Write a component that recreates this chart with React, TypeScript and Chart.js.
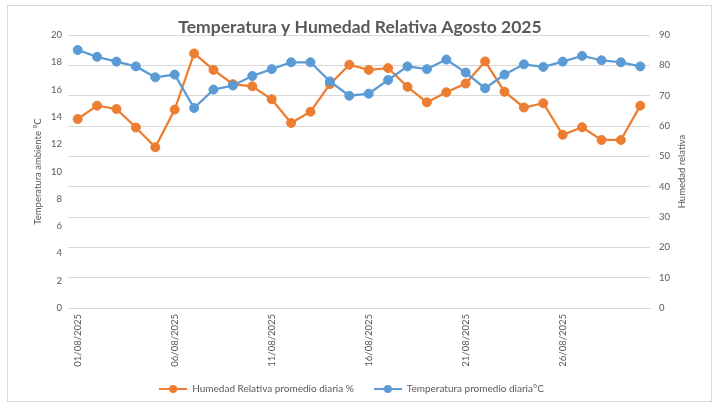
import React, { useEffect, useRef } from "react";
import { Chart, registerables } from "chart.js";

Chart.register(...registerables);

const fechas = [
  "01/08/2025", "02/08/2025", "03/08/2025", "04/08/2025", "05/08/2025",
  "06/08/2025", "07/08/2025", "08/08/2025", "09/08/2025", "10/08/2025",
  "11/08/2025", "12/08/2025", "13/08/2025", "14/08/2025", "15/08/2025",
  "16/08/2025", "17/08/2025", "18/08/2025", "19/08/2025", "20/08/2025",
  "21/08/2025", "22/08/2025", "23/08/2025", "24/08/2025", "25/08/2025",
  "26/08/2025", "27/08/2025", "28/08/2025", "29/08/2025", "30/08/2025",
];

const humedad = [
  62.3, 66.7, 65.6, 59.5, 53.0, 65.4, 83.9, 78.5, 73.8, 73.1,
  68.8, 61.0, 64.7, 73.8, 80.2, 78.5, 79.1, 72.9, 67.8, 71.1,
  74.0, 81.3, 71.3, 66.1, 67.5, 57.1, 59.6, 55.4, 55.4, 66.7,
];

const temperatura = [
  18.9, 18.4, 18.05, 17.7, 16.9, 17.1, 14.65, 16.0, 16.3, 17.0,
  17.5, 18.0, 18.0, 16.6, 15.55, 15.7, 16.7, 17.7, 17.5, 18.2,
  17.25, 16.1, 17.1, 17.85, 17.66, 18.05, 18.47, 18.15, 18.0, 17.7,
];

const tempTicks = { min: 0, max: 20, step: 2 };
const humTicks = { min: 0, max: 90, step: 10 };

const TITLE = "Temperatura y Humedad Relativa Agosto 2025";
const LEFT_TITLE = "Temperatura ambiente °C";
const RIGHT_TITLE = "Humedad relativa";
const HUM_LABEL = "Humedad Relativa promedio diaria %";
const TEMP_LABEL = "Temperatura promedio diaria°C";

const ORANGE = "#ED7D31";
const BLUE = "#5B9BD5";
const TEXT = "#595959";
const GRID = "#D9D9D9";
const FONT = "Lato";

function legendIcon(color: string): HTMLCanvasElement {
  const c = document.createElement("canvas");
  c.width = 28;
  c.height = 10;
  const ctx = c.getContext("2d")!;
  ctx.strokeStyle = color;
  ctx.lineWidth = 2;
  ctx.beginPath();
  ctx.moveTo(0, 5);
  ctx.lineTo(28, 5);
  ctx.stroke();
  ctx.fillStyle = color;
  ctx.beginPath();
  ctx.arc(14, 5, 4, 0, Math.PI * 2);
  ctx.fill();
  return c;
}

export default function App() {
  const ref = useRef<HTMLCanvasElement | null>(null);

  useEffect(() => {
    document.body.style.margin = "0";
    const canvas = ref.current!;
    const icons: Record<string, HTMLCanvasElement> = {
      [HUM_LABEL]: legendIcon(ORANGE),
      [TEMP_LABEL]: legendIcon(BLUE),
    };

    const decor = {
      id: "decor",
      afterLayout(chart: any) {
        const l = chart.legend;
        if (l) {
          const dx = -9;
          const dy = -5;
          l.left += dx;
          l.right += dx;
          l.top += dy;
          l.bottom += dy;
        }
      },
      beforeDraw(chart: any) {
        const ctx = chart.ctx;
        ctx.save();
        ctx.fillStyle = "#ffffff";
        ctx.fillRect(0, 0, chart.width, chart.height);
        ctx.strokeStyle = GRID;
        ctx.lineWidth = 1;
        ctx.strokeRect(7.5, 5.5, 704, 396);
        ctx.restore();
      },
      afterDraw(chart: any) {
        const ctx = chart.ctx;
        const area = chart.chartArea;
        const midY = (area.top + area.bottom) / 2;
        ctx.save();
        ctx.fillStyle = TEXT;
        ctx.textAlign = "center";
        ctx.textBaseline = "middle";
        ctx.font = `bold 17.5px ${FONT}`;
        ctx.fillText(TITLE, 360, 27);
        ctx.font = `9.5px ${FONT}`;
        ctx.translate(38, midY);
        ctx.rotate(-Math.PI / 2);
        ctx.fillText(LEFT_TITLE, 0, 0);
        ctx.restore();
        ctx.save();
        ctx.fillStyle = TEXT;
        ctx.textAlign = "center";
        ctx.textBaseline = "middle";
        ctx.font = `9.5px ${FONT}`;
        ctx.translate(682, midY);
        ctx.rotate(-Math.PI / 2);
        ctx.fillText(RIGHT_TITLE, 0, 0);
        ctx.restore();
      },
    };

    const chart = new Chart(canvas, {
      type: "line",
      data: {
        labels: fechas,
        datasets: [
          {
            label: TEMP_LABEL,
            data: temperatura,
            yAxisID: "yTemp",
            borderColor: BLUE,
            backgroundColor: BLUE,
            borderWidth: 2.25,
            pointRadius: 4.5,
            pointBorderWidth: 1,
            pointBorderColor: BLUE,
            pointBackgroundColor: BLUE,
            tension: 0,
          },
          {
            label: HUM_LABEL,
            data: humedad,
            yAxisID: "yHum",
            borderColor: ORANGE,
            backgroundColor: ORANGE,
            borderWidth: 2.25,
            pointRadius: 4.5,
            pointBorderWidth: 1,
            pointBorderColor: ORANGE,
            pointBackgroundColor: ORANGE,
            tension: 0,
          },
        ],
      },
      options: {
        responsive: false,
        animation: false,
        layout: { padding: { top: 35, left: 0, right: 0, bottom: 0 } },
        scales: {
          x: {
            offset: true,
            grid: { display: false, drawTicks: false },
            border: { display: true, color: GRID },
            ticks: {
              autoSkip: false,
              maxRotation: 90,
              minRotation: 90,
              padding: 6,
              color: TEXT,
              font: { family: FONT, size: 9.5 },
              callback: (_v: any, i: number) => (i % 5 === 0 ? fechas[i] : ""),
            },
            afterFit: (s: any) => {
              s.height = 61;
            },
          },
          yTemp: {
            position: "left",
            min: tempTicks.min,
            max: tempTicks.max,
            grid: { display: false, drawTicks: false },
            border: { display: false },
            ticks: {
              stepSize: tempTicks.step,
              padding: 6,
              color: TEXT,
              font: { family: FONT, size: 9.5 },
            },
            afterFit: (s: any) => {
              s.width = 68;
            },
          },
          yHum: {
            position: "right",
            min: humTicks.min,
            max: humTicks.max,
            grid: { display: true, drawTicks: false, color: GRID, lineWidth: 1 },
            border: { display: false },
            ticks: {
              stepSize: humTicks.step,
              padding: 9,
              color: TEXT,
              font: { family: FONT, size: 9.5 },
            },
            afterFit: (s: any) => {
              s.width = 71;
            },
          },
        },
        plugins: {
          title: { display: false },
          tooltip: { enabled: false },
          legend: {
            position: "bottom",
            labels: {
              usePointStyle: true,
              pointStyleWidth: 28,
              boxHeight: 10,
              padding: 20,
              color: TEXT,
              font: { family: FONT, size: 10 },
              sort: (a: any, b: any) => b.datasetIndex - a.datasetIndex,
              generateLabels: (ch: any) => {
                const items = (Chart.defaults.plugins.legend.labels as any).generateLabels(ch);
                return items.map((it: any) => ({ ...it, pointStyle: icons[it.text] }));
              },
            },
          },
        },
      },
      plugins: [decor],
    } as any);

    return () => chart.destroy();
  }, []);

  return (
    <div style={{ width: 721, height: 409 }}>
      <canvas ref={ref} width={721} height={409} />
    </div>
  );
}
